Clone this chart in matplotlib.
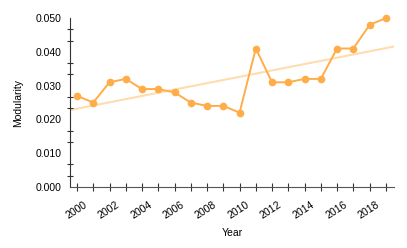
import numpy as np
import matplotlib
matplotlib.use('Agg')
import matplotlib.pyplot as plt
import matplotlib.transforms as mtransforms
from matplotlib.ticker import MultipleLocator, FormatStrFormatter

# Data
years = list(range(2000, 2020))
modularity = [0.027, 0.025, 0.031, 0.032, 0.029, 0.029, 0.028, 0.025, 0.024, 0.024,
              0.022, 0.041, 0.031, 0.031, 0.032, 0.032, 0.041, 0.041, 0.048, 0.050]
year_labels = [str(y) for y in range(2000, 2020, 2)]

plt.rcParams['font.family'] = ['Liberation Sans', 'DejaVu Sans']

fig = plt.figure(figsize=(4.07, 2.48), dpi=100)
ax = fig.add_axes([0.172, 0.246, 0.796, 0.681])

xlim = (1999.57, 2019.5)
ax.set_xlim(*xlim)
ax.set_ylim(0, 0.050)

# Linear trend line across the whole plot width
slope, intercept = np.polyfit(years, modularity, 1)
tx = np.array(xlim)
ax.plot(tx, slope * tx + intercept, color='#ffdcb0', lw=1.5, zorder=1)

ax.plot(years, modularity, color='#ffad48', lw=1.4, marker='o', markersize=4.5,
        zorder=2, clip_on=False)

for side in ('top', 'right'):
    ax.spines[side].set_visible(False)
ax.spines['left'].set_color('#333333')
ax.spines['bottom'].set_color('#555555')

ax.yaxis.set_major_locator(MultipleLocator(0.010))
ax.yaxis.set_major_formatter(FormatStrFormatter('%.3f'))
ax.yaxis.set_minor_locator(MultipleLocator(0.010 / 3))
ax.tick_params(axis='y', which='major', length=0, labelsize=7.5, pad=6)
ax.tick_params(axis='y', which='minor', direction='inout', length=5, width=0.8, color='#333333')

ax.set_xticks(years, minor=True)
ax.set_xticks(range(2000, 2020, 2))
ax.set_xticklabels(year_labels, rotation=33, ha='right', rotation_mode='anchor')
ax.tick_params(axis='x', which='both', direction='inout', length=6, width=0.8, color='#333333')
ax.tick_params(axis='x', which='major', labelsize=7.5, pad=6)
# shift the rotated labels a little to the right, like the reference
shift = mtransforms.ScaledTranslation(6 / 100, 0, fig.dpi_scale_trans)
for lbl in ax.get_xticklabels():
    lbl.set_transform(lbl.get_transform() + shift)

ax.set_xlabel('Year', fontsize=7.5, labelpad=5)
ax.set_ylabel('Modularity', fontsize=7.5, labelpad=9)

fig.savefig('out.png', dpi=100)
